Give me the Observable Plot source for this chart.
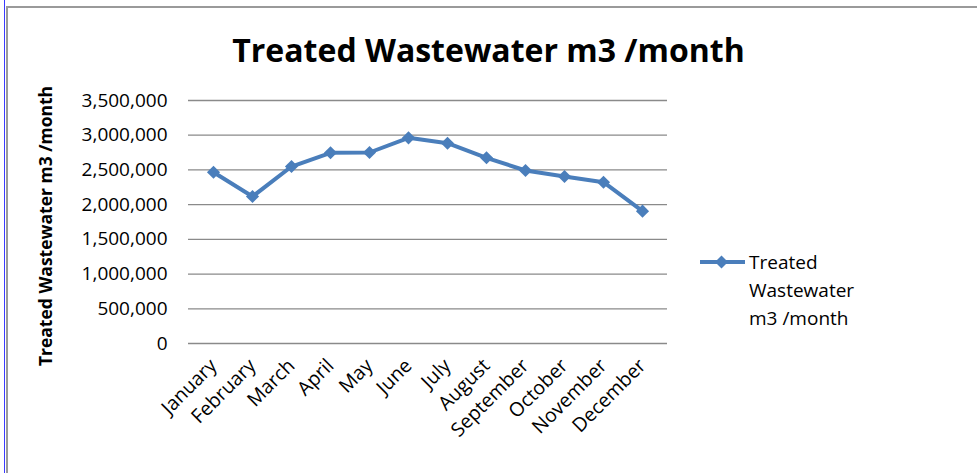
<!DOCTYPE html>
<html>
<head>
<meta charset="utf-8">
<script src="https://cdn.jsdelivr.net/npm/d3@7"></script>
<script src="https://cdn.jsdelivr.net/npm/@observablehq/plot@0.6"></script>
<style>
  html, body { margin: 0; padding: 0; background: #fff; }
  #wrap { position: relative; width: 977px; height: 473px; overflow: hidden; font-family: "Open Sans", sans-serif; color: #000; }
  #bl { position: absolute; left: 4px; top: 0; width: 1px; height: 473px; background: #3a3aff; }
  #gl { position: absolute; left: 6px; top: 6px; width: 2px; height: 467px; background: #9a9a9a; }
  #gt { position: absolute; left: 6px; top: 6px; width: 971px; height: 2px; background: #9a9a9a; }
  #title { position: absolute; left: 0; width: 977px; top: 30px; text-align: center; font-weight: 700; font-size: 32px; line-height: 40px; }
  #ylabel { position: absolute; left: 45px; top: 226px; transform: translate(-50%, -50%) rotate(-90deg); white-space: nowrap; font-weight: 700; font-size: 17.5px; }
  #chart { position: absolute; left: 0; top: 0; }
  #legend { position: absolute; left: 700px; top: 248px; display: flex; align-items: flex-start; }
  #legend .txt { font-size: 19px; line-height: 28px; margin-left: 4px; }
</style>
</head>
<body>
<div id="wrap">
  <div id="bl"></div><div id="gl"></div><div id="gt"></div>
  <div id="title">Treated Wastewater m3 /month</div>
  <div id="ylabel">Treated Wastewater m3 /month</div>
  <div id="chart"></div>
  <div id="legend">
    <svg width="45" height="28" style="display:block"><line x1="0" x2="45" y1="14" y2="14" stroke="#4a7ebb" stroke-width="4"/><path d="M21.5,7.5 L28,14 L21.5,20.5 L15,14 Z" fill="#4a7ebb"/></svg>
    <div class="txt">Treated<br>Wastewater<br>m3 /month</div>
  </div>
</div>
<script>
const months = ["January","February","March","April","May","June","July","August","September","October","November","December"];
const values = [2467000, 2117000, 2549000, 2747000, 2751000, 2962000, 2885000, 2675000, 2492000, 2405000, 2323000, 1906000];
const yTicks = [0, 500000, 1000000, 1500000, 2000000, 2500000, 3000000, 3500000];
const seriesName = "Treated Wastewater m3 /month";

const data = months.map((m, i) => ({month: m, value: values[i], series: seriesName}));
const lineColor = "#4a7ebb";
const gridColor = "#8a8a8a";

const chart = Plot.plot({
  width: 700,
  height: 473,
  marginLeft: 188,
  marginRight: 33,
  marginTop: 100,
  marginBottom: 130,
  style: {fontFamily: "Open Sans, sans-serif", fontSize: "19px", color: "#000", background: "transparent", overflow: "visible"},
  x: {type: "point", domain: months, padding: 0.5},
  y: {domain: [0, 3500000]},
  marks: [
    Plot.gridY(yTicks, {stroke: gridColor, strokeOpacity: 1, strokeWidth: 1.3}),
    Plot.axisY(yTicks, {tickSize: 0, tickPadding: 21, tickFormat: d3.format(","), label: null, line: true, stroke: gridColor, strokeWidth: 1.5, fill: "#000", fontSize: 19}),
    Plot.axisX({tickSize: 0, tickPadding: 19, tickRotate: -45, label: null, line: true, stroke: gridColor, strokeWidth: 1.5, fill: "#000", fontSize: 19.5}),
    Plot.line(data, {x: "month", y: "value", stroke: lineColor, strokeWidth: 4}),
    Plot.dot(data, {x: "month", y: "value", symbol: "diamond2", r: 5.9, fill: lineColor, stroke: "none"})
  ]
});
document.getElementById("chart").appendChild(chart);
</script>
</body>
</html>
